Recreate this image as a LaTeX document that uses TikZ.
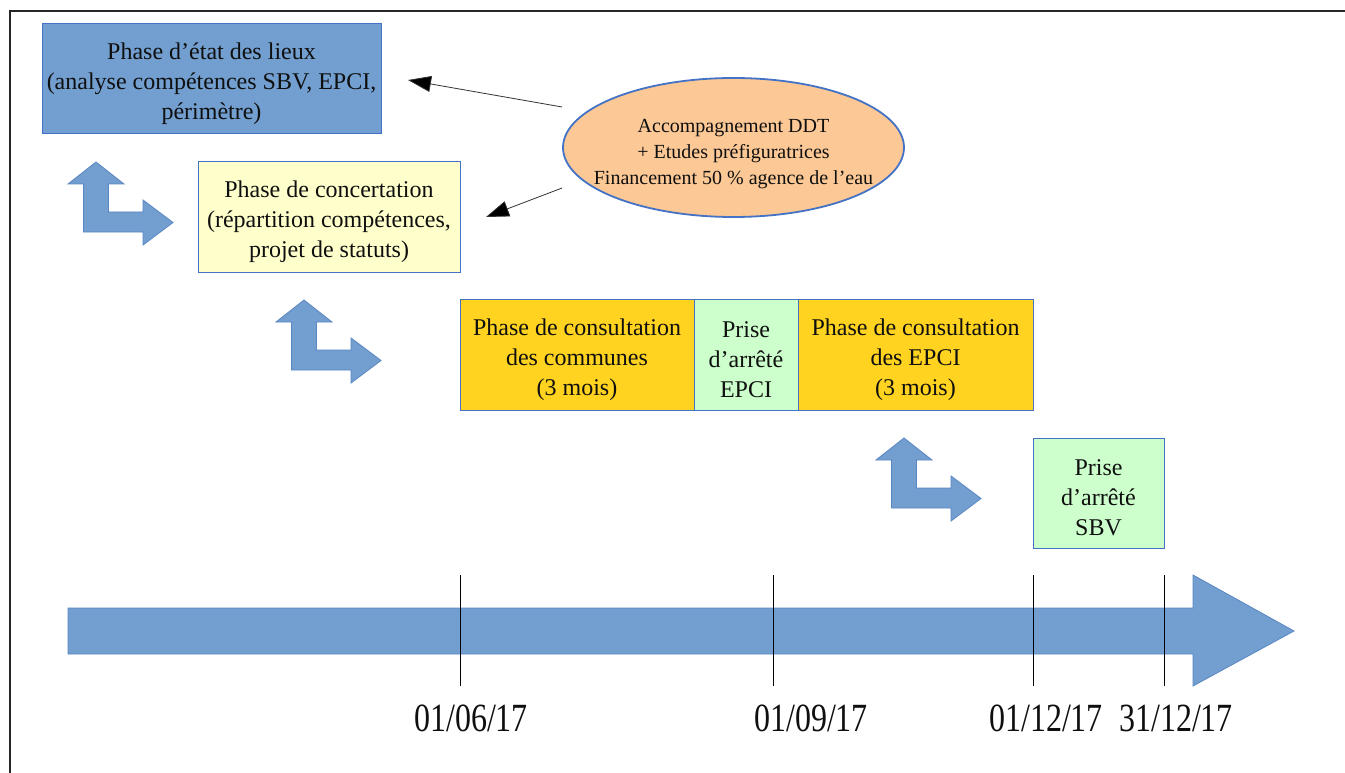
\documentclass[tikz,border=0pt]{standalone}
\usepackage{fontspec}
\setmainfont{Liberation Serif}
\newfontfamily\datefont[FakeStretch=0.8]{Liberation Serif}
\usetikzlibrary{shapes.geometric,arrows.meta}
\definecolor{bluefill}{RGB}{114,159,207}
\definecolor{blueline}{RGB}{68,114,196}
\definecolor{shapeline}{RGB}{90,135,195}
\definecolor{yellowfill}{RGB}{255,255,204}
\definecolor{orangefill}{RGB}{255,211,32}
\definecolor{greenfill}{RGB}{204,255,204}
\definecolor{peach}{RGB}{251,200,150}
\definecolor{txt}{RGB}{15,15,15}
\begin{document}
\begin{tikzpicture}[x=1pt,y=-1pt,
  box/.style={draw=blueline,line width=1pt,rectangle,inner sep=0pt},
  boxtext/.style={align=center,inner sep=0pt,font=\fontsize{24}{30}\selectfont,text=txt},
  bent/.pic={\path[fill=bluefill,draw=shapeline,line width=0.8pt]
    (0,0) -- (28,22) -- (12.5,22) -- (12.5,50) -- (47,50) -- (47,38) -- (77,60.5)
    -- (47,83) -- (47,70) -- (-12.5,70) -- (-12.5,22) -- (-28,22) -- cycle;},
  conn/.style={draw=black!80,line width=0.8pt,-{Triangle[length=23pt,width=16pt,fill=black]}},
  tick/.style={draw=black,line width=0.8pt},
  datelbl/.style={font=\datefont\fontsize{40}{40}\selectfont,inner sep=0pt,text=txt}
]
\useasboundingbox (0,0) rectangle (1345,773);
\fill[white] (0,0) rectangle (1345,773);
% frame
\draw[line width=2pt,black!85] (10,773) -- (10,11) -- (1345,11);

% boxes
\node[box,fill=bluefill,minimum width=339pt,minimum height=110pt] (etat) at (211.5,79) {};
\node[boxtext] (etatT) at ([yshift=-5pt]etat.center)
  {Phase d’état des lieux\\(analyse compétences SBV, EPCI,\\périmètre)};
\node[box,fill=yellowfill,minimum width=262pt,minimum height=110pt] (conc) at (329,217) {};
\node[boxtext] (concT) at ([yshift=-5pt]conc.center)
  {Phase de concertation\\(répartition compétences,\\projet de statuts)};
\node[box,fill=orangefill,minimum width=234pt,minimum height=111pt] (consc) at (577,354.5) {};
\node[boxtext] (conscT) at ([yshift=-5pt]consc.center)
  {Phase de consultation\\des communes\\(3 mois)};
\node[box,fill=greenfill,minimum width=104pt,minimum height=111pt] (arrepci) at (746,354.5) {};
\node[boxtext] (arrepciT) at ([yshift=-5pt]arrepci.center)
  {Prise\\d’arrêté\\EPCI};
\node[box,fill=orangefill,minimum width=235pt,minimum height=111pt] (consepci) at (915.5,354.5) {};
\node[boxtext] (consepciT) at ([yshift=-5pt]consepci.center)
  {Phase de consultation\\des EPCI\\(3 mois)};
\node[box,fill=greenfill,minimum width=131pt,minimum height=110pt] (arrsbv) at (1098.5,493) {};
\node[boxtext] (arrsbvT) at ([yshift=-5pt]arrsbv.center)
  {Prise\\d’arrêté\\SBV};

% ellipse
\node[ellipse,draw=blueline,line width=1.8pt,fill=peach,minimum width=341pt,minimum height=139pt,inner sep=0pt] (ell) at (733.5,147.5) {};
\node[align=center,inner sep=0pt,text=txt,font=\fontsize{20}{26}\selectfont] (ellt) at ([yshift=-6.5pt]ell.center)
  {Accompagnement DDT\\+ Etudes préfiguratrices\\Financement 50 \% agence de l’eau};

% connectors
\coordinate (t1) at (408,80);
\coordinate (t2) at (486,217);
\draw[conn] ([yshift=40.5pt]ell.west) -- (t1);
\draw[conn] ([yshift=-40.5pt]ell.west) -- (t2);

% bent arrows
\pic at (96,162) {bent};
\pic at (304,300) {bent};
\pic at (904,438) {bent};

% timeline
\path[fill=bluefill,draw=shapeline,line width=0.8pt]
  (68,608) -- (1193,608) -- (1193,575) -- (1294,631) -- (1193,686) -- (1193,654) -- (68,654) -- cycle;
\draw[tick] (460,575) -- (460,686);
\draw[tick] (773,575) -- (773,686);
\draw[tick] (1033,575) -- (1033,686);
\draw[tick] (1164,575) -- (1164,686);

% dates
\node[datelbl] (d1) at (471,718) {01/06/17};
\node[datelbl] (d2) at (811,718) {01/09/17};
\node[datelbl] (d3) at (1046,718) {01/12/17};
\node[datelbl] (d4) at (1176,718) {31/12/17};
\end{tikzpicture}
\end{document}
